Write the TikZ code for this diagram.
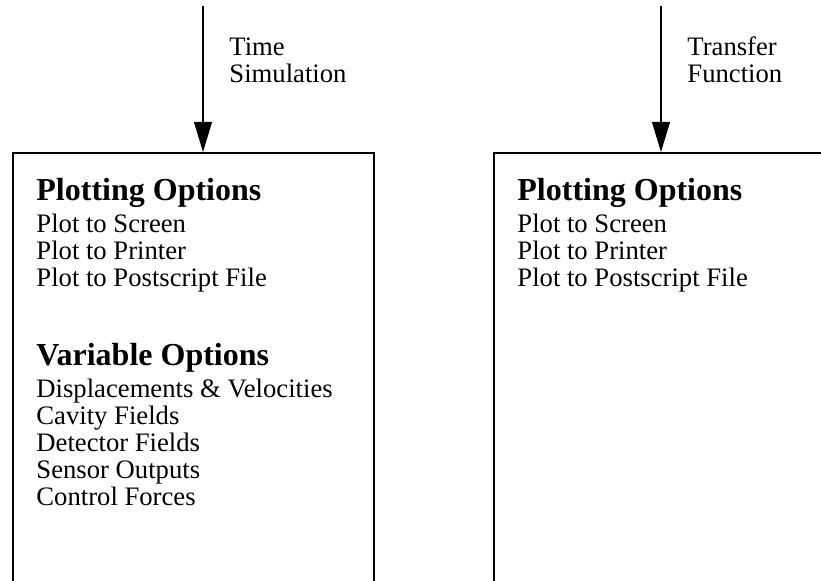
\documentclass[tikz,border=0pt]{standalone}
\usepackage{fontspec}
\setmainfont{Liberation Serif}
\usetikzlibrary{matrix, arrows.meta}

\begin{document}
\begin{tikzpicture} [x = 0.45pt, y = -0.45pt,
  box/.style = {draw, line width = 1pt, inner sep = 0pt, anchor = north west},
  feed/.style = {line width = 0.8pt, -{Triangle[length = 13.5pt, width = 8pt]}},
  lbl/.style = {font = \fontsize{12}{12.24}\selectfont, align = left, anchor = base west, inner sep = 0pt},
  entry/.style = {font = \fontsize{12}{12.24}\selectfont, inner sep = 0pt, text height = 8.64pt, text depth = 3.6pt, anchor = base west},
  hdr/.style = {entry, font = \bfseries\fontsize{14.4}{15}\selectfont},
  menu/.style = {matrix of nodes, inner sep = 0pt, anchor = north west, nodes = {entry}}]
\clip (0,0) rectangle (821,581);
% the two option boxes, cut off at the page edge
\node[box, minimum width = 162.45pt, minimum height = 225pt] (simbox) at (12,152) {};
\node[box, minimum width = 183pt, minimum height = 225pt] (tfbox) at (493,152) {};
\coordinate (simtop) at (203,6);
\coordinate (tftop) at (661,6);
% base of a two line label is its second line
\node[lbl] (simlbl) at (229,83) {Time\\Simulation};
\node[lbl] (tflbl) at (687,83) {Transfer\\Function};
\matrix (simmenu) [menu] at (36,180.8) {
|[hdr]| Plotting Options \\[2.2pt]
Plot to Screen \\
Plot to Printer \\
Plot to Postscript File \\[22.9pt]
|[hdr]| Variable Options \\[2.2pt]
Displacements \& Velocities \\
Cavity Fields \\
Detector Fields \\
Sensor Outputs \\
Control Forces \\
};
\matrix (tfmenu) [menu] at (517,180.8) {
|[hdr]| Plotting Options \\[2.2pt]
Plot to Screen \\
Plot to Printer \\
Plot to Postscript File \\
};
\draw[feed] (simtop) -- (simbox.north -| simtop);
\draw[feed] (tftop) -- (tfbox.north -| tftop);
\end{tikzpicture}
\end{document}
